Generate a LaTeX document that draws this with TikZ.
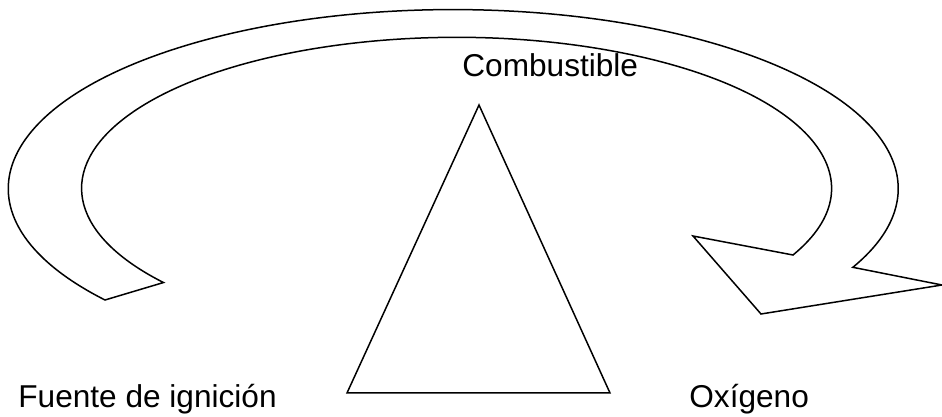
\documentclass[tikz,border=0pt]{standalone}
\usepackage{fontspec}
\setmainfont{Liberation Sans}
\usepackage{tikz}
\usetikzlibrary{positioning}

\begin{document}
\begin{tikzpicture}[
  x=0.5pt, y=0.5pt,
  outline/.style={draw=black, line width=0.75pt, line join=miter},
  lbl/.style={inner sep=0pt, anchor=base west, font=\fontsize{15.8}{18}\selectfont}
]
\useasboundingbox (0,0) rectangle (942,417);
% curved block arrow
\draw[outline] (105,117)
  arc[start angle=218.5, end angle=-26.1, x radius=445, y radius=179]
  -- (942,132) -- (761,103) -- (693,181) -- (793,162)
  arc[start angle=-26.2, end angle=218.6, x radius=375, y radius=151]
  -- cycle;
% triangle
\coordinate (apex) at (479,312);
\coordinate (baseL) at (347,24);
\coordinate (baseR) at (610,24);
\draw[outline] (apex) -- (baseL) -- (baseR) -- cycle;
% labels
\node[lbl] (fuel) at (462,340) {Combustible};
\node[lbl] (ignition) at (18,9) {Fuente de ignición};
\node[lbl] (oxygen) at (689,9) {Oxígeno};
\end{tikzpicture}
\end{document}
